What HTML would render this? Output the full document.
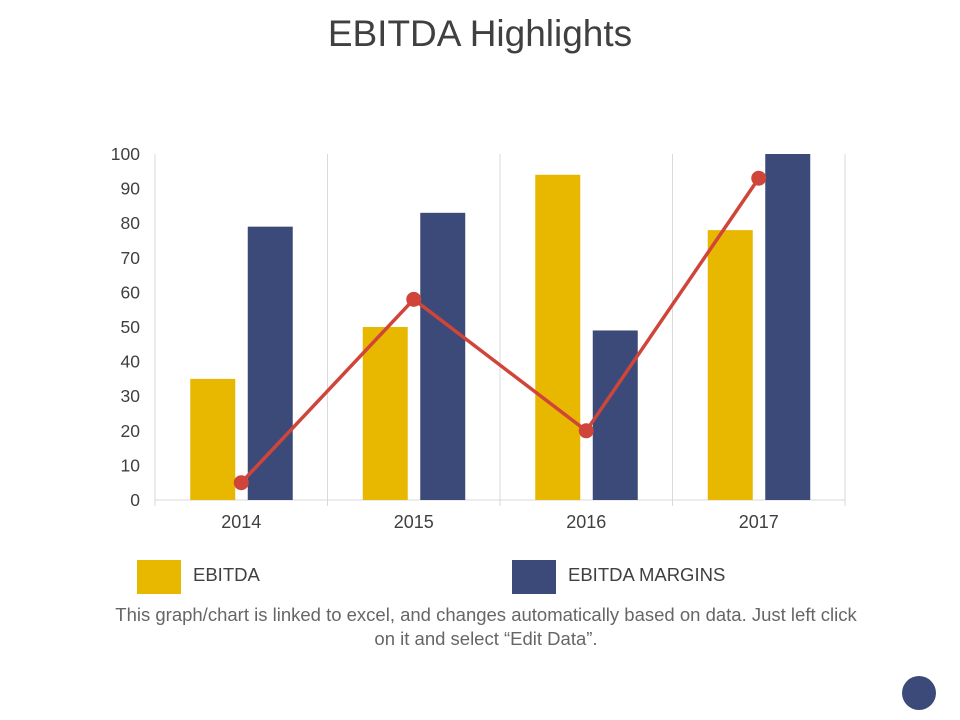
<!DOCTYPE html>
<html><head><meta charset="utf-8"><style>
body{margin:0;width:960px;height:720px;background:#fff;font-family:"Liberation Sans",sans-serif;overflow:hidden;position:relative}
</style></head><body>
<svg width="960" height="720" style="position:absolute;left:0;top:0" id="chart">
<text x="480" y="46" text-anchor="middle" font-size="37" fill="#404040">EBITDA Highlights</text>
<g id="grid"></g><g id="bars"></g><g id="line"></g><g id="labels"></g>
<rect x="137" y="560" width="44" height="34" fill="#E8B800"/>
<text x="193" y="581" font-size="18.5" fill="#404040">EBITDA</text>
<rect x="512" y="560" width="44" height="34" fill="#3B4A78"/>
<text x="568" y="581" font-size="18.5" fill="#404040">EBITDA MARGINS</text>
<text x="486" y="621" text-anchor="middle" font-size="18.5" fill="#666">This graph/chart is linked to excel, and changes automatically based on data. Just left click</text>
<text x="486" y="645" text-anchor="middle" font-size="18.5" fill="#666">on it and select “Edit Data”.</text>
<circle cx="919" cy="693" r="17" fill="#3B4A78"/>
</svg>
<script>
const categories=["2014","2015","2016","2017"];
const ebitda=[35,50,94,78];
const margins=[79,83,49,100];
const lineVals=[5,58,20,93];
const yTicks=[0,10,20,30,40,50,60,70,80,90,100];
const NS="http://www.w3.org/2000/svg";
const x0=155,x1=845,yb=500,yt=154;
const bw=(x1-x0)/categories.length;
const y=v=>yb-(v/100)*(yb-yt);
const cx=i=>x0+bw*(i+0.5);
function mk(tag,attrs,parent,text){const e=document.createElementNS(NS,tag);for(const k in attrs)e.setAttribute(k,attrs[k]);if(text!==undefined)e.textContent=text;document.getElementById(parent).appendChild(e);return e;}
for(let i=0;i<=categories.length;i++){
 const g=mk('line',{x1:x0+bw*i,x2:x0+bw*i,y1:yt,y2:yb+6,stroke:'#d9d9d9'},'grid');
 
 
}
const ax=mk('line',{x1:x0,x2:x1,y1:yb,y2:yb,stroke:'#d9d9d9'},'grid');


yTicks.forEach(t=>{
 const l=mk('text',{x:140,y:y(t)+6,'text-anchor':'end','font-size':17.5,fill:'#404040'},'labels',t);
 
 
});
categories.forEach((c,i)=>{
 const l=mk('text',{x:cx(i),y:528,'text-anchor':'middle','font-size':18,fill:'#404040'},'labels',c);
 
 
 const b1=mk('rect',{x:cx(i)-51,y:y(ebitda[i]),width:45,height:yb-y(ebitda[i]),fill:'#E8B800'},'bars');
 
 
 const b2=mk('rect',{x:cx(i)+6.5,y:y(margins[i]),width:45,height:yb-y(margins[i]),fill:'#3B4A78'},'bars');
 
 
});
const pl=mk('polyline',{points:lineVals.map((v,i)=>cx(i)+','+y(v)).join(' '),fill:'none',stroke:'#D0453A','stroke-width':3.5},'line');


lineVals.forEach((v,i)=>{
 const p=mk('circle',{cx:cx(i),cy:y(v),r:7.5,fill:'#D0453A'},'line');
 
 
});
</script>
</body></html>
